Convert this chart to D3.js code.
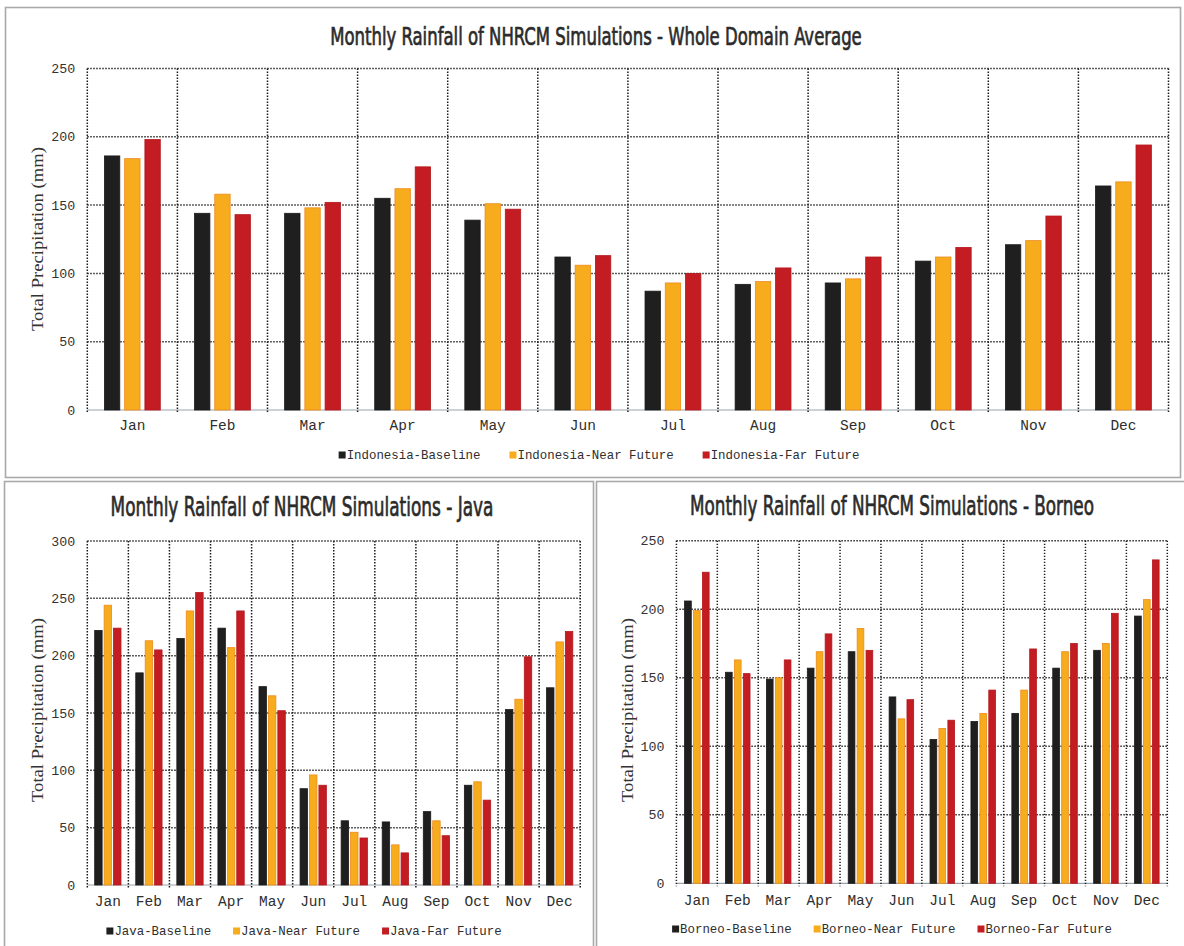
<!DOCTYPE html>
<html>
<head>
<meta charset="utf-8">
<script src="https://cdn.jsdelivr.net/npm/d3@7/dist/d3.min.js"></script>
<style>
  html, body { margin: 0; padding: 0; background: #ffffff; }
  svg { display: block; }
</style>
</head>
<body>
<svg id="chart" width="1184" height="946"></svg>
<script>
// Month categories shared by all three panels
const months = ["Jan", "Feb", "Mar", "Apr", "May", "Jun", "Jul", "Aug", "Sep", "Oct", "Nov", "Dec"];

// Whole domain average (mm)
const indonesiaBaseline = [186, 144, 144, 155, 139, 112, 87, 92, 93, 109, 121, 164];
const indonesiaNear     = [184, 158, 148, 162, 151, 106, 93, 94, 96, 112, 124, 167];
const indonesiaFar      = [198, 143, 152, 178, 147, 113, 100, 104, 112, 119, 142, 194];

// Java (mm)
const javaBaseline = [222, 185, 215, 224, 173, 84, 56, 55, 64, 87, 153, 172];
const javaNear     = [244, 213, 239, 207, 165, 96, 46, 35, 56, 90, 162, 212];
const javaFar      = [224, 205, 255, 239, 152, 87, 41, 28, 43, 74, 199, 221];

// Borneo (mm)
const borneoBaseline = [206, 154, 149, 157, 169, 136, 105, 118, 124, 157, 170, 195];
const borneoNear     = [199, 163, 150, 169, 186, 120, 113, 124, 141, 169, 175, 207];
const borneoFar      = [227, 153, 163, 182, 170, 134, 119, 141, 171, 175, 197, 236];

// Legend labels
const indonesiaSeries = ["Indonesia-Baseline", "Indonesia-Near Future", "Indonesia-Far Future"];
const javaSeries      = ["Java-Baseline", "Java-Near Future", "Java-Far Future"];
const borneoSeries    = ["Borneo-Baseline", "Borneo-Near Future", "Borneo-Far Future"];

// Y tick values
const ticksTo250 = [0, 50, 100, 150, 200, 250];
const ticksTo300 = [0, 50, 100, 150, 200, 250, 300];

const yLabel = "Total Precipitation (mm)";

const fills   = ["#1f1f1f", "#f6ac1d", "#c31c22"];
const strokes = ["#1a1a1a", "#ee8a1c", "#b3171d"];

const svg = d3.select("#chart");

// Panel frames
const frames = [
  { x: 5.5, y: 7.5, w: 1175, h: 470 },
  { x: 4.5, y: 481.5, w: 589, h: 470 },
  { x: 596.5, y: 481.5, w: 590, h: 470 }
];
svg.selectAll("rect.frame").data(frames).join("rect")
  .attr("class", "frame")
  .attr("x", d => d.x).attr("y", d => d.y)
  .attr("width", d => d.w).attr("height", d => d.h)
  .attr("fill", "none").attr("stroke", "#a9a9a9").attr("stroke-width", 1.6);

const monoFont = "'Liberation Mono', 'DejaVu Sans Mono', monospace";
const serifFont = "'Liberation Serif', 'DejaVu Serif', serif";
const titleFont = "'DejaVu Sans Condensed', 'Liberation Sans Narrow', 'DejaVu Sans', sans-serif";

// Draw a text squeezed horizontally to a given width, centred at (cx, y)
function squeezedText(g, txt, cx, y, size, width, attrs) {
  const t = g.append("text")
    .attr("text-anchor", "middle")
    .attr("font-size", size)
    .text(txt);
  Object.entries(attrs).forEach(([k, v]) => t.attr(k, v));
  const natural = t.node().getComputedTextLength();
  const sx = width / natural;
  t.attr("transform", `translate(${cx},${y}) scale(${sx},1)`);
  return t;
}

function drawPanel(cfg) {
  const g = svg.append("g");
  const series = [cfg.baseline, cfg.near, cfg.far];

  const x0 = d3.scaleBand().domain(months).range([cfg.left, cfg.right]).padding(0);
  const groupW = x0.bandwidth() * cfg.groupFrac;
  const x1 = d3.scaleBand().domain([0, 1, 2])
    .range([(x0.bandwidth() - groupW) / 2, (x0.bandwidth() + groupW) / 2])
    .paddingInner(cfg.inner);
  const y = d3.scaleLinear().domain([0, cfg.ticks[cfg.ticks.length - 1]]).range([cfg.bottom, cfg.top]);

  // Title (medium weight, tall and narrow)
  squeezedText(g, cfg.title, cfg.titleX, cfg.titleY, cfg.titleSize, cfg.titleLen, {
    "font-family": titleFont,
    "font-weight": "normal",
    "fill": "#2b2b2b",
    "stroke": "#2b2b2b",
    "stroke-width": 0.7
  });

  // Baseline at zero
  g.append("line")
    .attr("x1", cfg.left).attr("x2", cfg.right)
    .attr("y1", y(0)).attr("y2", y(0))
    .attr("stroke", "#9aa3ab").attr("stroke-width", 1.2);

  // Horizontal dotted gridlines
  g.selectAll("line.hgrid").data(cfg.ticks.filter(t => t > 0)).join("line")
    .attr("class", "hgrid")
    .attr("x1", cfg.left).attr("x2", cfg.right)
    .attr("y1", d => y(d)).attr("y2", d => y(d))
    .attr("stroke", "#1c1c1c").attr("stroke-width", 1.5)
    .attr("stroke-dasharray", "1.4,1.6");

  // Vertical dotted gridlines at month boundaries
  const bounds = months.map(m => x0(m)).concat([cfg.right]);
  g.selectAll("line.vgrid").data(bounds).join("line")
    .attr("class", "vgrid")
    .attr("x1", d => d).attr("x2", d => d)
    .attr("y1", cfg.top).attr("y2", y(0) + 3)
    .attr("stroke", "#1c1c1c").attr("stroke-width", 1.5)
    .attr("stroke-dasharray", "1.4,1.6");

  // Bars
  const groups = g.selectAll("g.month").data(months).join("g")
    .attr("class", "month")
    .attr("transform", d => `translate(${x0(d)},0)`);
  groups.selectAll("rect").data((m, i) => series.map((s, k) => ({ k, v: s[i] }))).join("rect")
    .attr("x", d => x1(d.k))
    .attr("width", x1.bandwidth())
    .attr("y", d => y(d.v))
    .attr("height", d => y(0) - y(d.v))
    .attr("fill", d => fills[d.k])
    .attr("stroke", d => strokes[d.k])
    .attr("stroke-width", 0.8);

  // Y tick labels
  g.selectAll("text.ytick").data(cfg.ticks).join("text")
    .attr("class", "ytick")
    .attr("x", cfg.left - 12).attr("y", d => y(d))
    .attr("dy", "0.35em")
    .attr("text-anchor", "end")
    .attr("font-family", monoFont).attr("font-size", 13.3)
    .attr("fill", "#333")
    .text(d => d);

  // Month labels
  g.selectAll("text.xtick").data(months).join("text")
    .attr("class", "xtick")
    .attr("x", d => x0(d) + x0.bandwidth() / 2).attr("y", cfg.monthY)
    .attr("text-anchor", "middle")
    .attr("font-family", monoFont).attr("font-size", 14.5)
    .attr("fill", "#2e2e2e")
    .text(d => d);

  // Y axis title
  g.append("text")
    .attr("transform", `translate(${cfg.yLabelX},${cfg.yLabelY}) rotate(-90)`)
    .attr("text-anchor", "middle")
    .attr("dy", "0.35em")
    .attr("font-family", serifFont).attr("font-size", 17)
    .attr("textLength", 184).attr("lengthAdjust", "spacingAndGlyphs")
    .attr("fill", "#333")
    .text(yLabel);

  // Legend
  const lg = g.append("g");
  const items = lg.selectAll("g.item").data(cfg.names).join("g").attr("class", "item");
  items.append("rect")
    .attr("width", 7).attr("height", 7)
    .attr("y", -7.5)
    .attr("fill", (d, i) => fills[i]);
  items.append("text")
    .attr("x", 8)
    .attr("font-family", monoFont).attr("font-size", 12.4)
    .attr("fill", "#2e2e2e")
    .text(d => d);
  const widths = [];
  items.each(function () { widths.push(this.getBBox().width); });
  const total = d3.sum(widths) + cfg.legendGap * (widths.length - 1);
  let cx = cfg.legendCx - total / 2;
  items.attr("transform", (d, i) => {
    const t = `translate(${cx},${cfg.legendY})`;
    cx += widths[i] + cfg.legendGap;
    return t;
  });
}

drawPanel({
  title: "Monthly Rainfall of NHRCM Simulations - Whole Domain Average",
  titleX: 596, titleY: 45, titleSize: 25, titleLen: 532,
  baseline: indonesiaBaseline, near: indonesiaNear, far: indonesiaFar,
  names: indonesiaSeries, ticks: ticksTo250,
  left: 87.3, right: 1168.5, top: 68.5, bottom: 410,
  groupFrac: 0.62, inner: 0.24,
  monthY: 430, yLabelX: 37, yLabelY: 239,
  legendY: 459, legendCx: 599, legendGap: 29
});

drawPanel({
  title: "Monthly Rainfall of NHRCM Simulations - Java",
  titleX: 302, titleY: 516, titleSize: 27, titleLen: 383,
  baseline: javaBaseline, near: javaNear, far: javaFar,
  names: javaSeries, ticks: ticksTo300,
  left: 87.3, right: 580.2, top: 541, bottom: 885,
  groupFrac: 0.64, inner: 0.21,
  monthY: 906, yLabelX: 37, yLabelY: 710,
  legendY: 935, legendCx: 304, legendGap: 22
});

drawPanel({
  title: "Monthly Rainfall of NHRCM Simulations - Borneo",
  titleX: 892, titleY: 515, titleSize: 27, titleLen: 404,
  baseline: borneoBaseline, near: borneoNear, far: borneoFar,
  names: borneoSeries, ticks: ticksTo250,
  left: 676.4, right: 1167.3, top: 540.7, bottom: 883.3,
  groupFrac: 0.6, inner: 0.25,
  monthY: 905, yLabelX: 627, yLabelY: 710,
  legendY: 933, legendCx: 892, legendGap: 22
});
</script>
</body>
</html>
